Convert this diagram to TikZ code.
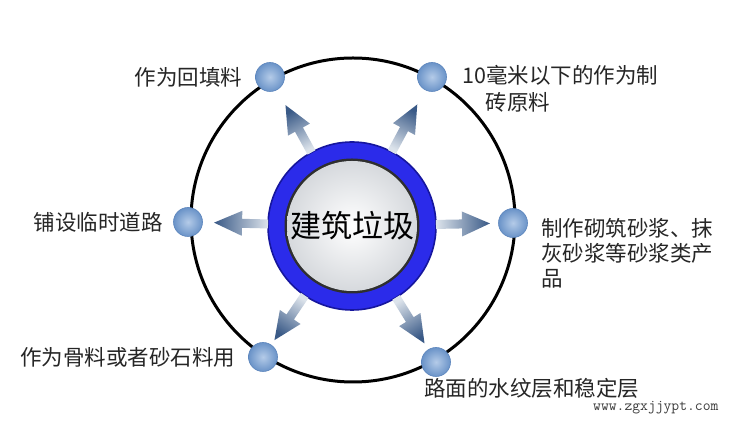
\documentclass[tikz,border=0pt]{standalone}
\usepackage{fontspec}
\usepackage{xcolor}
\usepackage{tikz}
\usetikzlibrary{positioning,calc}
\newfontfamily\cjk{Noto Sans CJK SC}
\definecolor{ring}{HTML}{2B2BEA}
\definecolor{ringdk}{HTML}{16169E}
\definecolor{rim}{HTML}{2F2F2F}
\definecolor{disc}{HTML}{D6D9DD}
\definecolor{ballin}{HTML}{B4CBE8}
\definecolor{ballout}{HTML}{6A93C8}
\definecolor{balledge}{HTML}{5A84BC}
\definecolor{spkdk}{HTML}{3A5A87}
\definecolor{spklt}{HTML}{DCE3EB}
\definecolor{ink}{HTML}{262626}
\definecolor{wmgray}{HTML}{3C3C3C}
\newcommand{\spoke}[2]{%
  \pgfmathsetmacro{\spokeang}{#2-90}
  \shade[top color=spkdk,bottom color=spklt,shading angle=\spokeang]
    ($(ctr.center)!84pt!(#1.center)!4.5pt!90:(#1.center)$) -- ($(ctr.center)!110pt!(#1.center)!4.5pt!90:(#1.center)$)
    -- ($(ctr.center)!110pt!(#1.center)!12.5pt!90:(#1.center)$) -- ($(ctr.center)!138pt!(#1.center)$)
    -- ($(ctr.center)!110pt!(#1.center)!12.5pt!-90:(#1.center)$) -- ($(ctr.center)!110pt!(#1.center)!4.5pt!-90:(#1.center)$)
    -- ($(ctr.center)!84pt!(#1.center)!4.5pt!-90:(#1.center)$) -- cycle;}
\tikzset{
  orbit/.style={circle,draw=black,line width=3pt,minimum size=324pt,inner sep=0pt},
  hub/.style={circle,fill=ring,draw=ringdk,line width=1.6pt,minimum size=168pt,inner sep=0pt,
    font=\cjk\fontsize{31pt}{31pt}\selectfont,
    path picture={
      \fill[rim] (path picture bounding box.center) circle (67.5pt);
      \shade[inner color=white,outer color=disc] (path picture bounding box.center) circle (65pt);}},
  ball/.style={circle,minimum size=29pt,inner sep=0pt,inner color=ballin,outer color=ballout,draw=balledge,line width=0.6pt},
  lbl/.style={font=\cjk\fontsize{21.5pt}{27pt}\selectfont,text=ink,inner sep=0pt,align=left},
  wmark/.style={font=\ttfamily\fontsize{15.2pt}{17pt}\selectfont,text=wmgray,inner sep=0pt},
}
\begin{document}
\begin{tikzpicture}[x=1pt,y=1pt]
\path[use as bounding box,fill=white] (0,0) rectangle (750,430);
\node[orbit] (orb) at (353,210) {};
\node[hub] (ctr) at (352,204) {建筑垃圾};
\node[ball] (bTL) at (270,353) {};
\node[ball] (bTR) at (432,353) {};
\node[ball] (bL) at (188,208) {};
\node[ball] (bR) at (513,207) {};
\node[ball] (bBL) at (263,73) {};
\node[ball] (bBR) at (436,68) {};
\spoke{bTL}{118.8}
\spoke{bTR}{61.8}
\spoke{bL}{178.6}
\spoke{bR}{1.1}
\spoke{bBL}{-124.2}
\spoke{bBR}{-58.3}
\node[lbl,left=13pt of bTL] (tTL) {作为回填料};
\node[lbl,anchor=west] (tTR) at (462,341) {10毫米以下的作为制\\\hspace*{1.1em}砖原料};
\node[lbl,left=10pt of bL] (tL) {铺设临时道路};
\node[lbl,anchor=west,font=\cjk\fontsize{21.5pt}{25pt}\selectfont] (tR) at (541,177) {制作砌筑砂浆、抹\\灰砂浆等砂浆类产\\品};
\node[lbl,left=13pt of bBL] (tBL) {作为骨料或者砂石料用};
\node[lbl,anchor=west] (tBR) at (424,42) {路面的水纹层和稳定层};
\node[wmark,anchor=west] (wm) at (593,22) {www.zgxjjypt.com};
\end{tikzpicture}
\end{document}
